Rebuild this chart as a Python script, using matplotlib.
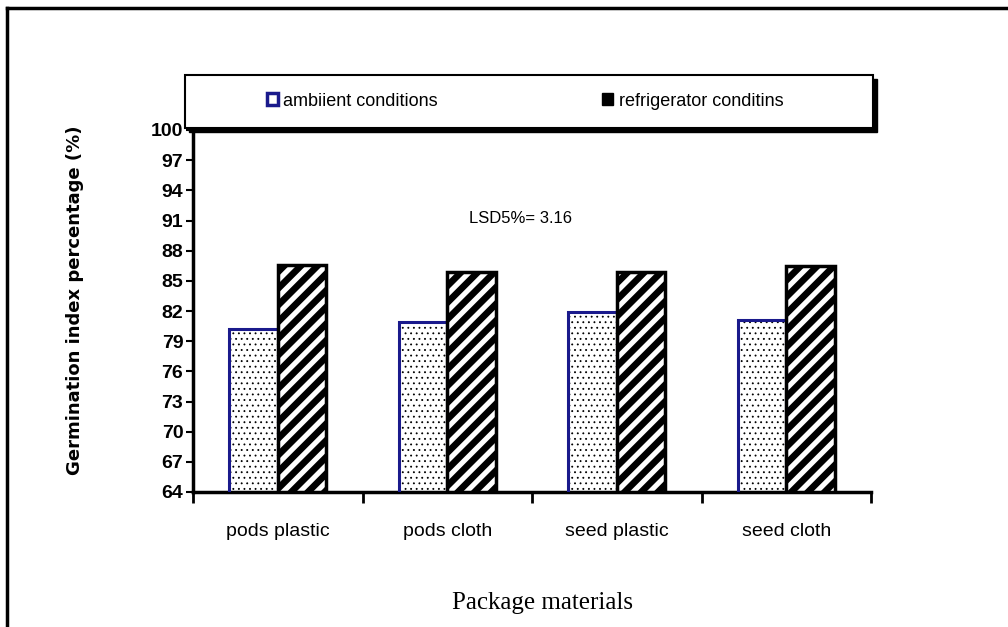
import matplotlib
matplotlib.use('Agg')
import matplotlib.pyplot as plt
from matplotlib import font_manager
from matplotlib.lines import Line2D
import numpy as np

categories = ['pods plastic', 'pods cloth', 'seed plastic', 'seed cloth']
ambient = [80.2, 80.9, 81.9, 81.1]
refrigerator = [86.6, 85.9, 85.9, 86.5]
series_names = ['ambiient conditions', 'refrigerator conditins']
yticks = [64, 67, 70, 73, 76, 79, 82, 85, 88, 91, 94, 97, 100]

names = {f.name for f in font_manager.fontManager.ttflist}
narrow = 'Liberation Sans Narrow' if 'Liberation Sans Narrow' in names else 'Liberation Sans'

fig = plt.figure(figsize=(10.08, 6.27), dpi=100)
ax = fig.add_axes([193/1008, 1 - 492/627, 678/1008, 362/627])

x = np.arange(len(categories))
w = 0.286

# ambient: white with black dots, navy outline
with plt.rc_context({'hatch.linewidth': 0.6}):
    ax.bar(x - w/2, ambient, w, facecolor='white', edgecolor='black',
           hatch='...', linewidth=0, zorder=2)
ax.bar(x - w/2, ambient, w, fill=False, edgecolor='#1a1a8c', linewidth=2.2, zorder=3)

# refrigerator: thick black diagonal stripes
with plt.rc_context({'hatch.linewidth': 4.8}):
    ax.bar(x + w/2, refrigerator, w, facecolor='white', edgecolor='black',
           hatch='//', linewidth=0, zorder=2)
ax.bar(x + w/2, refrigerator, w, fill=False, edgecolor='black', linewidth=2.5, zorder=3)

ax.set_xlim(-0.5, len(categories) - 0.5)
ax.set_ylim(64, 100)
ax.set_yticks(yticks)
ax.set_yticklabels([str(t) for t in yticks], fontfamily=narrow, fontweight='bold', fontsize=14)
ax.set_xticks(x)
ax.set_xticklabels(categories, fontfamily=narrow, fontsize=14)
ax.set_xticks(np.arange(len(categories) + 1) - 0.5, minor=True)
ax.tick_params(axis='x', which='major', length=0, pad=22)
ax.tick_params(axis='x', which='minor', length=8, width=2, direction='out')
ax.tick_params(axis='y', length=5, width=1.5, direction='out', pad=2)

for s in ['top', 'right']:
    ax.spines[s].set_visible(False)
ax.spines['left'].set_linewidth(2.5)
ax.spines['bottom'].set_linewidth(2.5)

ax.text(1.43, 91.2, 'LSD5%= 3.16', fontfamily=narrow, fontsize=12, ha='center', va='center')

fig.text(75/1008, 1 - 300/627, 'Germination index percentage (%)', rotation=90,
         ha='center', va='center', fontsize=13, fontweight='bold', fontfamily='DejaVu Sans')
fig.text(543/1008, 1 - 603/627, 'Package materials', ha='center', va='center',
         fontsize=18, fontfamily='Liberation Serif')

# legend
h1 = plt.Rectangle((0, 0), 1, 1, facecolor='white', edgecolor='#1a1a8c', linewidth=2.5)
h2 = plt.Rectangle((0, 0), 1, 1, facecolor='black', edgecolor='black')
leg = fig.legend([h1, h2], series_names, ncol=2, loc='center left',
                 bbox_to_anchor=(260/1008, 1 - 101/627), frameon=False,
                 handlelength=0.6, handleheight=0.6, handletextpad=0.3,
                 columnspacing=9.1, borderaxespad=0, prop={'family': narrow, 'size': 13})
box = plt.Rectangle((185/1008, 1 - 128/627), (873 - 185)/1008, 53/627, transform=fig.transFigure,
                    facecolor='white', edgecolor='black', linewidth=1.5, zorder=1)
shadow = plt.Rectangle((189/1008, 1 - 132/627), (873 - 185)/1008, 53/627, transform=fig.transFigure,
                       facecolor='black', edgecolor='black', zorder=0.5)
fig.patches.extend([shadow, box])

# outer frame (top and left only visible)
fig.lines.append(Line2D([7/1008, 1], [1 - 8/627, 1 - 8/627], transform=fig.transFigure,
                        color='black', linewidth=2.5))
fig.lines.append(Line2D([7/1008, 7/1008], [0, 1 - 8/627], transform=fig.transFigure,
                        color='black', linewidth=2.5))

fig.savefig('out.png', dpi=100)
